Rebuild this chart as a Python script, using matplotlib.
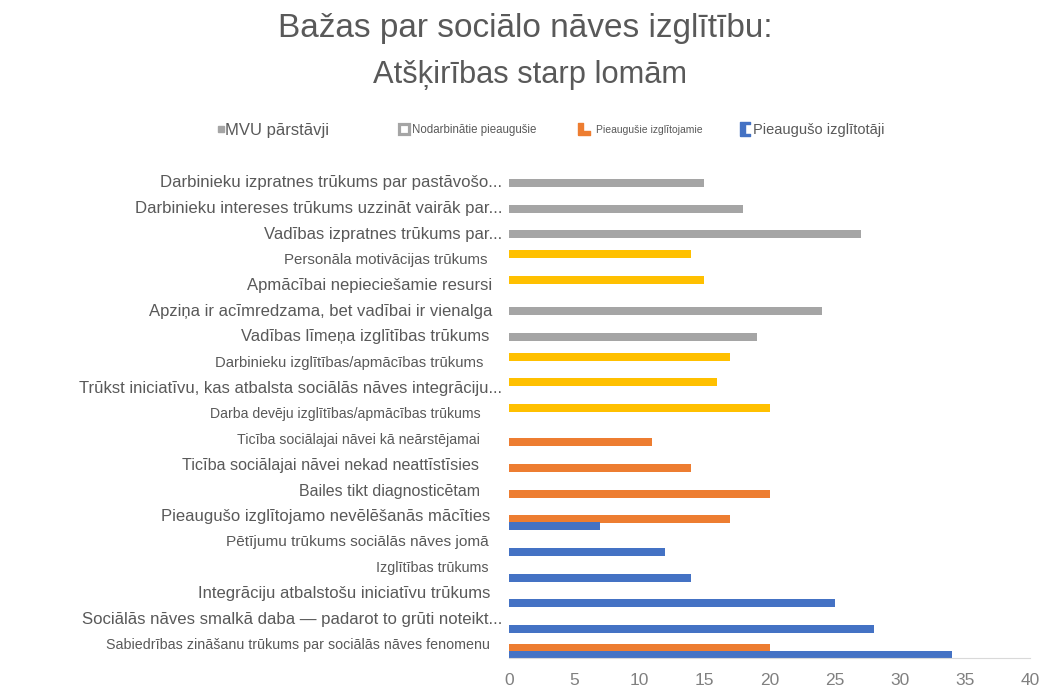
import numpy as np
import matplotlib
matplotlib.use("Agg")
import matplotlib.pyplot as plt
from matplotlib.lines import Line2D
from matplotlib.path import Path
import matplotlib.transforms as mtransforms

plt.rcParams['font.family'] = ['Liberation Sans', 'DejaVu Sans']

categories = [
    "Darbinieku izpratnes trūkums par pastāvošo...",
    "Darbinieku intereses trūkums uzzināt vairāk par...",
    "Vadības izpratnes trūkums par...",
    "Personāla motivācijas trūkums",
    "Apmācībai nepieciešamie resursi",
    "Apziņa ir acīmredzama, bet vadībai ir vienalga",
    "Vadības līmeņa izglītības trūkums",
    "Darbinieku izglītības/apmācības trūkums",
    "Trūkst iniciatīvu, kas atbalsta sociālās nāves integrāciju...",
    "Darba devēju izglītības/apmācības trūkums",
    "Ticība sociālajai nāvei kā neārstējamai",
    "Ticība sociālajai nāvei nekad neattīstīsies",
    "Bailes tikt diagnosticētam",
    "Pieaugušo izglītojamo nevēlēšanās mācīties",
    "Pētījumu trūkums sociālās nāves jomā",
    "Izglītības trūkums",
    "Integrāciju atbalstošu iniciatīvu trūkums",
    "Sociālās nāves smalkā daba — padarot to grūti noteikt...",
    "Sabiedrības zināšanu trūkums par sociālās nāves fenomenu",
]
nan = np.nan
mvu = [15, 18, 27, nan, nan, 24, 19, nan, nan, nan, nan, nan, nan, nan, nan, nan, nan, nan, nan]
nodarbinatie = [nan, nan, nan, 14, 15, nan, nan, 17, 16, 20, nan, nan, nan, nan, nan, nan, nan, nan, nan]
izglitojamie = [nan, nan, nan, nan, nan, nan, nan, nan, nan, nan, 11, 14, 20, 17, nan, nan, nan, nan, 20]
izglitotaji = [nan, nan, nan, nan, nan, nan, nan, nan, nan, nan, nan, nan, nan, 7, 12, 14, 25, 28, 34]
series_names = ["MVU pārstāvji", "Nodarbinātie pieaugušie", "Pieaugušie izglītojamie", "Pieaugušo izglītotāji"]
xticks = [0, 5, 10, 15, 20, 25, 30, 35, 40]

# styles
colors = ["#A5A5A5", "#FFC000", "#ED7D31", "#4472C4"]
offsets = [0.0, -0.23, 0.10, 0.37]
label_sizes = [12.1, 12.1, 12.0, 10.8, 12.0, 12.0, 11.9, 10.7, 12.0, 10.1,
               10.2, 11.6, 11.5, 12.0, 11.1, 10.3, 12.0, 12.1, 10.3]
label_pads = [7, 7, 7, 22, 17, 17, 20, 26, 7, 28, 29, 30, 29, 19, 20, 21, 19, 7, 19]
text_col = "#595959"

fig = plt.figure(figsize=(10.5, 6.92), dpi=100)
ax = fig.add_axes([0.4848, 0.0491, 0.4962, 0.7052])

pos = np.arange(len(categories))
bh = 0.31
for vals, col, off in zip([mvu, nodarbinatie, izglitojamie, izglitotaji], colors, offsets):
    v = np.array(vals, dtype=float)
    m = ~np.isnan(v)
    ax.barh(pos[m] + off, v[m], height=bh, color=col, edgecolor='none')

ax.set_ylim(len(categories) - 0.5, -0.5)
ax.set_xlim(0, 40)
ax.set_xticks(xticks)
ax.set_xticklabels([str(t) for t in xticks], fontsize=12.5, color="#808080")
ax.tick_params(axis='x', length=0, pad=11)
ax.set_yticks([])
for s in ['top', 'right', 'left']:
    ax.spines[s].set_visible(False)
ax.spines['bottom'].set_color('#d9d9d9')

blend = mtransforms.blended_transform_factory(ax.transAxes, ax.transData)
for i, lab in enumerate(categories):
    tr = mtransforms.offset_copy(blend, fig=fig, x=-label_pads[i] * 0.72, y=0, units='points')
    ax.text(0, i, lab, transform=tr, ha='right', va='center', fontsize=label_sizes[i], color=text_col)

fig.text(0.5, 0.9595, "Bažas par sociālo nāves izglītību:", ha='center', va='center',
         fontsize=24, color=text_col)
fig.text(0.505, 0.891, "Atšķirības starp lomām", ha='center', va='center',
         fontsize=22.2, color=text_col)

# legend icons
L_shape = Path([(-1, -1), (1, -1), (1, -0.3), (-0.2, -0.3), (-0.2, 1), (-1, 1), (-1, -1)])
bracket = Path([(-0.75, -1), (0.75, -1), (0.75, -0.76), (-0.05, -0.76), (-0.05, 0.76),
                (0.75, 0.76), (0.75, 1), (-0.75, 1), (-0.75, -1)])
handles = [
    Line2D([], [], marker='s', linestyle='none', color=colors[0], markersize=4.5),
    Line2D([], [], marker='s', linestyle='none', markerfacecolor='white',
           markeredgecolor=colors[0], markeredgewidth=2.3, markersize=6.5),
    Line2D([], [], marker=L_shape, linestyle='none', color=colors[2], markersize=8.6),
    Line2D([], [], marker=bracket, linestyle='none', color=colors[3], markersize=9.4),
]
leg_x = [217, 398, 578, 740]
leg_fs = [12, 8.3, 7.5, 10.5]
leg_hl = [0.45, 1.0, 1.15, 0.7]
leg_tp = [0.05, 0.2, 0.55, 0.2]
for h, name, x, fs, hl, tp in zip(handles, series_names, leg_x, leg_fs, leg_hl, leg_tp):
    lg = fig.legend([h], [name], loc='center left', bbox_to_anchor=(x / 1050, 1 - 130 / 692),
                    frameon=False, borderpad=0, borderaxespad=0, handlelength=hl,
                    handletextpad=tp, fontsize=fs)
    for t in lg.get_texts():
        t.set_color(text_col)

fig.savefig("out.png", dpi=100)
